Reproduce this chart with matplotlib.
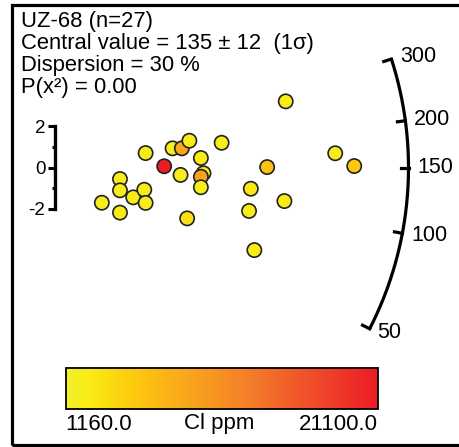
import numpy as np
import matplotlib
matplotlib.use("Agg")
import matplotlib.pyplot as plt
from matplotlib.colors import LinearSegmentedColormap, Normalize
from matplotlib.cm import ScalarMappable
from matplotlib.patches import Rectangle

plt.rcParams['font.family'] = ['Liberation Sans', 'DejaVu Sans']

# grain data
# precision (1/sigma), standardised estimate, Cl content (ppm)
precision = [1.06, 1.47, 1.47, 1.47, 1.77, 2.02, 2.05, 2.05, 2.47, 2.66,
             2.87, 3.04, 2.84, 2.99, 3.30, 3.36, 3.30, 3.30, 3.77, 5.22,
             6.34, 6.77, 4.80, 4.43, 5.19, 4.39, 4.51]
std_est = [-1.70, -0.55, -1.10, -2.18, -1.44, -1.07, -1.71, 0.71, 0.07, 0.94,
           0.94, 1.31, -0.35, -2.46, 0.47, -0.27, -0.44, -0.95, 1.21, 3.22,
           0.70, 0.08, 0.03, -1.02, -1.62, -2.10, -4.00]
cl_ppm = [2200, 2300, 2200, 2400, 2600, 2300, 2200, 2400, 21100, 2300,
          9000, 2300, 2200, 3600, 2500, 3000, 9200, 2300, 2300, 2500,
          2300, 5600, 6300, 2900, 2500, 2400, 2600]

# radial scale (ages, Ma) and its reference value
arc_ticks = [50, 100, 150, 200, 300]
z_ref = np.log(150.0)
axis_ticks = [-2, 0, 2]

title_lines = ["UZ-68 (n=27)",
               "Central value = 135 \u00b1 12  (1\u03c3)",
               "Dispersion = 30 %",
               "P(x\u00b2) = 0.00"]
cl_min, cl_max = 1160.0, 21100.0

W, H = 459, 447
fig = plt.figure(figsize=(W / 100, H / 100), dpi=100)

# pixel geometry of the plot
ox, oy = 55.0, 167.7       # origin (px from left / top)
px_x, px_y = 44.2, 20.6    # pixels per data unit
R = 353.5                  # arc radius in pixels

ax = fig.add_axes([0, 0, 1, 1])
ax.set_xlim(-ox / px_x, (W - ox) / px_x)
ax.set_ylim(-(H - oy) / px_y, oy / px_y)
ax.patch.set_alpha(0)

for s in ['top', 'right', 'bottom']:
    ax.spines[s].set_visible(False)
ax.spines['left'].set_position(('data', 0))
ax.spines['left'].set_bounds(-2, 2)
ax.spines['left'].set_linewidth(2.4)
ax.set_xticks([])
ax.set_yticks(axis_ticks)
ax.set_yticklabels([str(t) for t in axis_ticks])
ax.set_yticks([-1, 1], minor=True)
ax.tick_params(axis='y', which='major', direction='out', length=5, width=2.2, labelsize=13.5, pad=2)
ax.tick_params(axis='y', which='minor', direction='out', length=2.5, width=2.2)

cmap = LinearSegmentedColormap.from_list(
    'clmap', [(0.0, '#f1ef2e'), (0.07, '#f9ec14'), (0.22, '#fdc80e'),
              (0.42, '#f8a01e'), (0.6, '#f47a2a'), (0.8, '#ef4a2a'),
              (1.0, '#ec1c24')])
norm = Normalize(cl_min, cl_max)

ax.scatter(precision, std_est, c=cl_ppm, cmap=cmap, norm=norm, s=105,
           edgecolors='#222222', linewidths=1.2, zorder=3)

# arc
def arc_point(age, r):
    phi = np.arctan(px_y / px_x * (np.log(age) - z_ref))
    return r * np.cos(phi) / px_x, r * np.sin(phi) / px_y

ages = np.exp(np.linspace(np.log(arc_ticks[0]), np.log(arc_ticks[-1]), 200))
pts = np.array([arc_point(a, R) for a in ages])
ax.plot(pts[:, 0], pts[:, 1], color='black', lw=2.3, solid_capstyle='butt')
for t in arc_ticks:
    x0, y0 = arc_point(t, R)
    x1, y1 = arc_point(t, R - 8)
    ax.plot([x0, x1], [y0, y1], color='black', lw=2.3)
    xl, yl = arc_point(t, R + 9)
    ax.text(xl, yl, str(t), ha='left', va='center', fontsize=15.5)

# header text
baselines = [26.7, 48.5, 71.0, 93.5]
for line, yb in zip(title_lines, baselines):
    fig.text(21 / W, 1 - yb / H, line, ha='left', va='baseline', fontsize=15.8)

# colour bar
cx0, cx1, cy0, cy1 = 65.7, 377.7, 368.3, 409.3
cax = fig.add_axes([cx0 / W, 1 - cy1 / H, (cx1 - cx0) / W, (cy1 - cy0) / H])
cb = fig.colorbar(ScalarMappable(norm=norm, cmap=cmap), cax=cax, orientation='horizontal')
cb.set_ticks([])
cb.outline.set_linewidth(1.3)
lab_y = 1 - 429.5 / H
fig.text(cx0 / W, lab_y, "%.1f" % cl_min, ha='left', va='baseline', fontsize=16)
fig.text(219 / W, lab_y, "Cl ppm", ha='center', va='baseline', fontsize=16)
fig.text(cx1 / W, lab_y, "%.1f" % cl_max, ha='right', va='baseline', fontsize=16)

# frame around the panel
fig.patches.append(Rectangle((11.5 / W, 1 - 445 / H), 470 / W, (445 - 4.5) / H,
                             transform=fig.transFigure, fill=False,
                             edgecolor='black', lw=2.3))

fig.savefig('out.png', dpi=100)
